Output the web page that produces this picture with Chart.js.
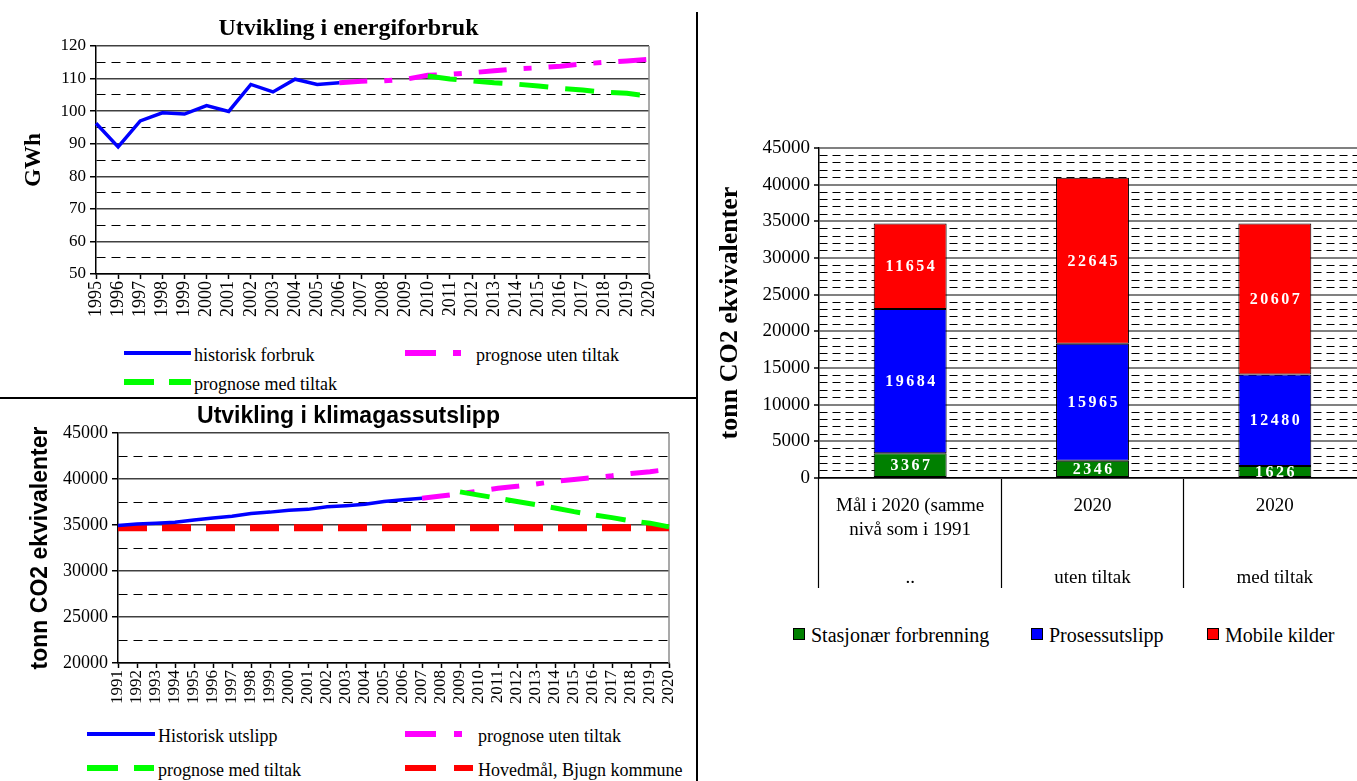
<!DOCTYPE html>
<html><head><meta charset="utf-8">
<script src="https://cdn.jsdelivr.net/npm/chart.js@4.4.1/dist/chart.umd.min.js"></script>
<style>
html,body{margin:0;padding:0;background:#fff;}
body{width:1357px;height:781px;overflow:hidden;position:relative;font-family:"Liberation Serif","Times New Roman",serif;color:#000;}
.box{position:absolute;}
.box canvas{display:block;}
.lt{position:absolute;white-space:nowrap;transform:translateY(-50%);line-height:22px;}
</style></head><body>
<div class="box" style="left:0;top:0;width:697px;height:332px"><canvas id="c1"></canvas></div>
<div class="box" style="left:0;top:401px;width:697px;height:312px"><canvas id="c2"></canvas></div>
<div class="box" style="left:700px;top:0;width:700px;height:600px"><canvas id="c3"></canvas></div>
<div style="position:absolute;left:0;top:397px;width:697px;height:2px;background:#000"></div>
<div style="position:absolute;left:696px;top:12px;width:2px;height:769px;background:#000"></div>
<div id="legends"></div>
<script>
// ---------- DATA ----------
const energyYears = ['1995','1996','1997','1998','1999','2000','2001','2002','2003','2004','2005','2006','2007','2008','2009','2010','2011','2012','2013','2014','2015','2016','2017','2018','2019','2020'];
const energyHistorisk = [96.3, 89.0, 97.0, 99.5, 99.1, 101.7, 99.9, 108.2, 105.9, 109.8, 108.2, 108.7];           // 1995-2006
const energyUtenTiltak = [108.7, 109.2, 109.3, 109.8, 111.0, 111.3, 111.8, 112.4, 113.0, 113.3, 113.8, 114.5, 115.0, 115.4, 115.9]; // 2006-2020
const energyMedTiltak = [110.8, 109.9, 109.3, 108.7, 108.3, 107.7, 107.0, 106.5, 105.8, 105.5, 104.6];         // 2010-2020

const emisYears = ['1991','1992','1993','1994','1995','1996','1997','1998','1999','2000','2001','2002','2003','2004','2005','2006','2007','2008','2009','2010','2011','2012','2013','2014','2015','2016','2017','2018','2019','2020'];
const emisHistorisk = [34950, 35100, 35200, 35300, 35550, 35750, 35950, 36250, 36400, 36600, 36700, 36980, 37100, 37250, 37550, 37750, 37900]; // 1991-2007
const emisUtenTiltak = [37900, 38150, 38400, 38700, 39000, 39200, 39450, 39750, 39950, 40150, 40350, 40600, 40800, 41050];           // 2007-2020
const emisMedTiltak = [38600, 38250, 37900, 37550, 37200, 36850, 36450, 36100, 35800, 35450, 35200, 34800];                           // 2009-2020
const emisHovedmal = [34705, 34705, 34705, 34705, 34705, 34705, 34705, 34705, 34705, 34705, 34705, 34705, 34705, 34705, 34705, 34705, 34705, 34705, 34705, 34705, 34705, 34705, 34705, 34705, 34705, 34705, 34705, 34705, 34705, 34705];

const barCategories = [['Mål i 2020 (samme', 'nivå som i 1991', '', '..'], ['2020', '', '', 'uten tiltak'], ['2020', '', '', 'med tiltak']];
const stasjonaer = [3367, 2346, 1626];
const prosessutslipp = [19684, 15965, 12480];
const mobileKilder = [11654, 22645, 20607];

// ---------- HELPERS ----------
const SERIF = "'Liberation Serif', 'Times New Roman', serif";
const SANS = "'Liberation Sans', Arial, sans-serif";
Chart.defaults.font.family = SERIF;
Chart.defaults.color = '#000';
const sf = (size, extra) => Object.assign({family: SERIF, size: size, weight: 'normal'}, extra || {});

function alignTo(labels, startLabel, values) {
  const start = labels.indexOf(startLabel);
  return labels.map((_, i) => (i >= start && i - start < values.length) ? values[i - start] : null);
}
const isMajor = step => c => !!c.tick && Math.abs(c.tick.value / step - Math.round(c.tick.value / step)) < 1e-6;
const major10 = isMajor(10), major5000 = isMajor(5000);

// invisible right-hand spacer axis so that the full-width title stays centred on the canvas
const spacerAxis = w => ({
  type: 'linear', position: 'right', display: true,
  grid: {display: false, drawOnChartArea: false}, border: {display: false}, ticks: {display: false},
  afterFit: s => { s.width = w; }
});

const rightEdge = {
  id: 'rightEdge',
  beforeDatasetsDraw(chart, args, opts) {
    const {ctx, chartArea: {right, top, bottom}} = chart;
    ctx.save();
    ctx.strokeStyle = opts.color || '#888';
    ctx.lineWidth = 1.5;
    ctx.beginPath(); ctx.moveTo(right, top); ctx.lineTo(right, bottom); ctx.stroke();
    ctx.restore();
  }
};

const barLabels = {
  id: 'barLabels',
  afterDatasetsDraw(chart) {
    const ctx = chart.ctx;
    ctx.save();
    ctx.font = "bold 16px 'Liberation Serif', 'Times New Roman', serif";
    ctx.fillStyle = '#fff';
    ctx.textAlign = 'center';
    ctx.textBaseline = 'middle';
    const sp = 2.5;
    if ('letterSpacing' in ctx) ctx.letterSpacing = sp + 'px';
    chart.data.datasets.forEach((ds, i) => {
      chart.getDatasetMeta(i).data.forEach((bar, j) => {
        const p = bar.getProps(['x', 'y', 'base'], true);
        ctx.fillText(String(ds.data[j]), p.x + sp / 2, (p.y + p.base) / 2 + 1);
      });
    });
    ctx.restore();
  }
};

const common = {responsive: true, maintainAspectRatio: false, animation: false, devicePixelRatio: 1};

// ---------- CHART 1 ----------
new Chart(document.getElementById('c1'), {
  type: 'line',
  data: {
    labels: energyYears,
    datasets: [
      {label: 'historisk forbruk', data: alignTo(energyYears, '1995', energyHistorisk), borderColor: '#0000FF', borderWidth: 3.5, pointRadius: 0, order: 0},
      {label: 'prognose med tiltak', data: alignTo(energyYears, '2010', energyMedTiltak), borderColor: '#00FF00', borderWidth: 5, borderDash: [29, 17], pointRadius: 0, order: 1},
      {label: 'prognose uten tiltak', data: alignTo(energyYears, '2006', energyUtenTiltak), borderColor: '#FF00FF', borderWidth: 5, borderDash: [28, 17, 8, 17], pointRadius: 0, order: 2}
    ]
  },
  options: Object.assign({}, common, {
    layout: {padding: {left: 0, right: 0, top: 0, bottom: 0}},
    plugins: {
      legend: {display: false}, tooltip: {enabled: false},
      title: {display: true, text: 'Utvikling i energiforbruk', color: '#000', font: sf(24, {weight: 'bold', lineHeight: 1.2}), padding: {top: 14, bottom: 3.2}},
      rightEdge: {color: '#8c8c8c'}
    },
    scales: {
      x: {
        offset: false,
        grid: {display: true, drawOnChartArea: false, drawTicks: true, tickLength: 5, tickColor: '#000', tickWidth: 1.5},
        border: {color: '#000', width: 1.5},
        ticks: {autoSkip: false, minRotation: 90, maxRotation: 90, padding: 2, font: sf(18), color: '#000'},
        afterFit: s => { s.height = 58; s.paddingLeft = 0; s.paddingRight = 0; }
      },
      y: {
        min: 50, max: 120,
        ticks: {stepSize: 5, autoSkip: false, padding: 4, font: sf(17), color: '#000', callback: v => (v % 10 === 0 ? v : '')},
        grid: {color: c => major10(c) ? '#404040' : '#000', lineWidth: c => major10(c) ? 1.5 : 1, tickColor: c => major10(c) ? '#000' : 'rgba(0,0,0,0)', tickLength: 6, tickWidth: 1.5},
        border: {color: '#000', width: 1.5, dash: c => (c.tick && !major10(c)) ? [9, 6] : []},
        title: {display: true, text: 'GWh', color: '#000', font: sf(23, {weight: 'bold', lineHeight: 1.2}), padding: {top: 20, bottom: 0}},
        afterFit: s => { s.width = 96; }
      },
      ySpacer: spacerAxis(48)
    }
  }),
  plugins: [rightEdge]
});

// ---------- CHART 2 ----------
new Chart(document.getElementById('c2'), {
  type: 'line',
  data: {
    labels: emisYears,
    datasets: [
      {label: 'Historisk utslipp', data: alignTo(emisYears, '1991', emisHistorisk), borderColor: '#0000FF', borderWidth: 3.5, pointRadius: 0, order: 0},
      {label: 'prognose med tiltak', data: alignTo(emisYears, '2009', emisMedTiltak), borderColor: '#00FF00', borderWidth: 5, borderDash: [30, 16], pointRadius: 0, order: 1},
      {label: 'prognose uten tiltak', data: alignTo(emisYears, '2007', emisUtenTiltak), borderColor: '#FF00FF', borderWidth: 5, borderDash: [28, 17, 8, 17], pointRadius: 0, order: 2},
      {label: 'Hovedmål, Bjugn kommune', data: alignTo(emisYears, '1991', emisHovedmal), borderColor: '#FF0000', borderWidth: 7, borderDash: [29, 15], pointRadius: 0, order: 3}
    ]
  },
  options: Object.assign({}, common, {
    layout: {padding: {left: 0, right: 0, top: 0, bottom: 0}},
    plugins: {
      legend: {display: false}, tooltip: {enabled: false},
      title: {display: true, text: 'Utvikling i klimagassutslipp', color: '#000', font: {family: SANS, size: 23, weight: 'bold', lineHeight: 1.2}, padding: {top: 1.5, bottom: 2.9}},
      rightEdge: {color: '#8c8c8c'}
    },
    scales: {
      x: {
        offset: false,
        grid: {display: true, drawOnChartArea: false, drawTicks: true, tickLength: 5, tickColor: '#000', tickWidth: 1.5},
        border: {color: '#000', width: 1.5},
        ticks: {autoSkip: false, minRotation: 90, maxRotation: 90, padding: 2, font: sf(17), color: '#000'},
        afterFit: s => { s.height = 50; s.paddingLeft = 0; s.paddingRight = 0; }
      },
      y: {
        min: 20000, max: 45000,
        ticks: {stepSize: 2500, autoSkip: false, padding: 4, font: sf(18), color: '#000', callback: v => (v % 5000 === 0 ? v : '')},
        grid: {color: c => major5000(c) ? '#404040' : '#000', lineWidth: c => major5000(c) ? 1.5 : 1, tickColor: c => major5000(c) ? '#000' : 'rgba(0,0,0,0)', tickLength: 6, tickWidth: 1.5},
        border: {color: '#000', width: 1.5, dash: c => (c.tick && !major5000(c)) ? [9, 6] : []},
        title: {display: true, text: 'tonn CO2 ekvivalenter', color: '#000', font: {family: SANS, size: 23, weight: 'bold', lineHeight: 1.2}, padding: {top: 27, bottom: 0}},
        afterFit: s => { s.width = 118; }
      },
      ySpacer: spacerAxis(28)
    }
  }),
  plugins: [rightEdge]
});

// ---------- CHART 3 ----------
const barStyle = {borderColor: '#000', borderWidth: 1, borderSkipped: false, barPercentage: 0.4, categoryPercentage: 1};
new Chart(document.getElementById('c3'), {
  type: 'bar',
  data: {
    labels: barCategories,
    datasets: [
      Object.assign({label: 'Stasjonær forbrenning', data: stasjonaer, backgroundColor: '#008000'}, barStyle),
      Object.assign({label: 'Prosessutslipp', data: prosessutslipp, backgroundColor: '#0000FF'}, barStyle),
      Object.assign({label: 'Mobile kilder', data: mobileKilder, backgroundColor: '#FF0000'}, barStyle)
    ]
  },
  options: Object.assign({}, common, {
    layout: {padding: {left: 0, right: 34, top: 148, bottom: 0}},
    plugins: {legend: {display: false}, tooltip: {enabled: false}},
    scales: {
      x: {
        stacked: true, offset: true,
        grid: {display: true, offset: true, drawOnChartArea: false, drawTicks: true, tickLength: 110, color: '#000', tickColor: '#000', lineWidth: 1, tickWidth: 1.2},
        border: {color: '#000', width: 1.5},
        ticks: {autoSkip: false, minRotation: 0, maxRotation: 0, padding: -94, font: sf(19, {lineHeight: '24px'}), color: '#000'},
        afterFit: s => { s.height = 122; s.paddingLeft = 0; s.paddingRight = 0; }
      },
      y: {
        stacked: true, min: 0, max: 45000,
        ticks: {stepSize: 1000, autoSkip: false, padding: 4, font: sf(19), color: '#000', callback: v => (v % 5000 === 0 ? v : '')},
        grid: {color: c => major5000(c) ? '#808080' : '#000', lineWidth: c => major5000(c) ? 2 : 1, tickColor: c => major5000(c) ? '#000' : 'rgba(0,0,0,0)', tickLength: 5, tickWidth: 1.5},
        border: {color: '#000', width: 1.5, dash: c => (c.tick && !major5000(c)) ? [8, 5] : []},
        title: {display: true, text: 'tonn CO2 ekvivalenter', color: '#000', font: sf(26, {weight: 'bold', lineHeight: 1.2}), padding: {top: 15, bottom: 0}},
        afterFit: s => { s.width = 119; }
      }
    }
  }),
  plugins: [barLabels]
});

// ---------- LEGENDS (HTML) ----------
function lineSample(x, y, w, color, sw, dash) {
  return '<svg width="' + w + '" height="12" style="position:absolute;left:' + x + 'px;top:' + (y - 6) + 'px">' +
    '<line x1="0" y1="6" x2="' + w + '" y2="6" stroke="' + color + '" stroke-width="' + sw + '"' +
    (dash ? ' stroke-dasharray="' + dash + '"' : '') + '/></svg>';
}
function text(x, y, t, size) {
  return '<div class="lt" style="left:' + x + 'px;top:' + y + 'px;font-size:' + size + 'px">' + t + '</div>';
}
function square(x, y, color) {
  return '<div style="position:absolute;left:' + x + 'px;top:' + (y - 6) + 'px;width:10px;height:10px;border:1px solid #000;background:' + color + '"></div>';
}
let html = '';
// chart 1
html += lineSample(124, 353, 67, '#0000FF', 4, null) + text(194, 355, 'historisk forbruk', 18);
html += lineSample(405, 353, 56, '#FF00FF', 6, '31 17 8 17') + text(476, 355, 'prognose uten tiltak', 18);
html += lineSample(124, 382, 67, '#00FF00', 6, '30 15') + text(194, 384, 'prognose med tiltak', 18);
// chart 2
html += lineSample(87, 734, 68, '#0000FF', 4, null) + text(158, 736, 'Historisk utslipp', 18);
html += lineSample(405, 734, 57, '#FF00FF', 6, '31 18 8 18') + text(478, 736, 'prognose uten tiltak', 18);
html += lineSample(87, 768, 67, '#00FF00', 6, '31 16') + text(158, 770, 'prognose med tiltak', 18);
html += lineSample(405, 768, 68, '#FF0000', 6, '31 18') + text(478, 770, 'Hovedmål, Bjugn kommune', 18);
// chart 3
html += square(793, 634, '#008000') + text(811, 635, 'Stasjonær forbrenning', 20);
html += square(1031, 634, '#0000FF') + text(1049, 635, 'Prosessutslipp', 20);
html += square(1207, 634, '#FF0000') + text(1225, 635, 'Mobile kilder', 20);
document.getElementById('legends').innerHTML = html;
</script>
</body></html>
